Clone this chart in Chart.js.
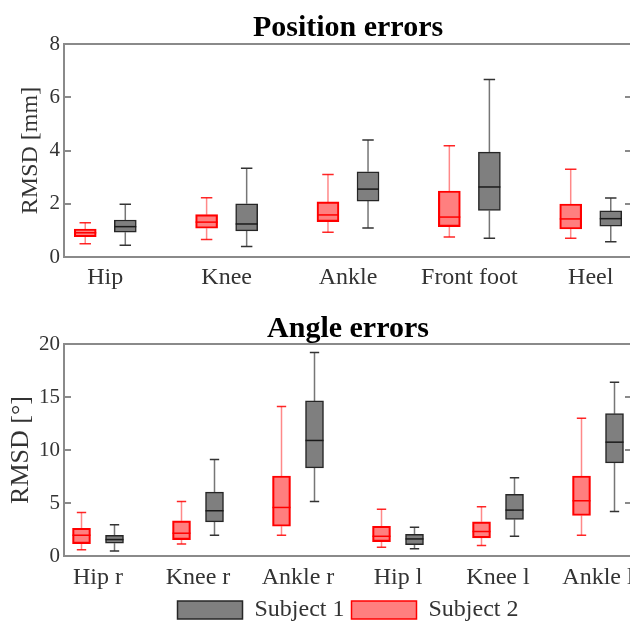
<!DOCTYPE html>
<html><head><meta charset="utf-8">
<script src="https://cdn.jsdelivr.net/npm/chart.js@4"></script>
<style>
html,body{margin:0;padding:0;background:#fff;overflow:hidden;}
#c1{position:absolute;left:0;top:0;}
#c2{position:absolute;left:0;top:300px;}
</style></head><body>
<canvas id="c1" width="632" height="300"></canvas>
<canvas id="c2" width="632" height="332"></canvas>
<script>
// Each entry: [min, q1, median, q3, max]
const posCategories = ['Hip', 'Knee', 'Ankle', 'Front foot', 'Heel'];
const posSubject1 = [[0.44,0.93,1.14,1.39,1.98],[0.39,0.98,1.24,2.00,3.33],[1.09,2.10,2.55,3.20,4.39],[0.70,1.75,2.63,3.94,6.67],[0.57,1.16,1.44,1.73,2.22]];
const posSubject2 = [[0.50,0.76,0.91,1.05,1.29],[0.66,1.08,1.31,1.59,2.23],[0.93,1.33,1.58,2.07,3.10],[0.75,1.14,1.50,2.48,4.18],[0.70,1.05,1.43,1.99,3.30]];
const posTicks = [0, 2, 4, 6, 8];

const angCategories = ['Hip r', 'Knee r', 'Ankle r', 'Hip l', 'Knee l', 'Ankle l'];
const angSubject1 = [[0.47,1.20,1.55,1.96,2.94],[1.96,3.22,4.27,6.03,9.10],[5.15,8.31,10.90,14.63,19.20],[0.69,1.07,1.61,2.05,2.72],[1.86,3.44,4.33,5.81,7.39],[4.20,8.79,10.74,13.43,16.40]];
const angSubject2 = [[0.60,1.17,1.96,2.62,4.10],[1.14,1.55,2.15,3.32,5.15],[1.96,2.81,4.58,7.55,14.10],[0.82,1.36,1.86,2.81,4.42],[0.98,1.71,2.31,3.22,4.64],[1.96,3.82,5.21,7.55,13.00]];
const angTicks = [0, 5, 10, 15, 20];

const seriesNames = ['Subject 1', 'Subject 2'];

const FONT = "'Liberation Serif', 'Times New Roman', serif";
const TEXT = '#333333';
const AXIS = '#8a8a8a';
const STYLES = [
  {fill:'#7f7f7f', border:'#262626', whisker:'#767676', cap:'#333333', median:'#1a1a1a', offset: 0.165},
  {fill:'rgba(255,0,0,0.5)', border:'#ff0000', whisker:'rgba(255,40,40,0.55)', cap:'rgba(255,0,0,0.85)', median:'#ff0000', offset: -0.165}
];

function makeDataset(idx, stats, thickness){
  const st = STYLES[idx];
  return {
    label: seriesNames[idx],
    data: stats.map((s, i) => ({x: i + 1 + st.offset, y: [s[1], s[3]], stats: s})),
    backgroundColor: st.fill,
    borderColor: st.border,
    borderWidth: 1.5,
    borderSkipped: false,
    barThickness: thickness,
    grouped: false,
    boxStyle: st
  };
}

const boxPlugin = {
  id: 'boxWhiskers',
  beforeDatasetsDraw(chart){
    const ctx = chart.ctx, ys = chart.scales.y;
    chart.data.datasets.forEach((ds, di) => {
      const meta = chart.getDatasetMeta(di);
      const st = ds.boxStyle;
      meta.data.forEach((el, i) => {
        const s = ds.data[i].stats;
        const x = el.x, hw = el.width * 0.26;
        const yMin = ys.getPixelForValue(s[0]), yQ1 = ys.getPixelForValue(s[1]);
        const yQ3 = ys.getPixelForValue(s[3]), yMax = ys.getPixelForValue(s[4]);
        ctx.save();
        ctx.lineWidth = 1.5;
        ctx.strokeStyle = st.whisker;
        ctx.beginPath();
        ctx.moveTo(x, yQ3); ctx.lineTo(x, yMax);
        ctx.moveTo(x, yQ1); ctx.lineTo(x, yMin);
        ctx.stroke();
        ctx.strokeStyle = st.cap;
        ctx.beginPath();
        ctx.moveTo(x - hw, yMax); ctx.lineTo(x + hw, yMax);
        ctx.moveTo(x - hw, yMin); ctx.lineTo(x + hw, yMin);
        ctx.stroke();
        ctx.restore();
      });
    });
  },
  afterDatasetsDraw(chart){
    const ctx = chart.ctx, ys = chart.scales.y;
    chart.data.datasets.forEach((ds, di) => {
      const meta = chart.getDatasetMeta(di);
      const st = ds.boxStyle;
      meta.data.forEach((el, i) => {
        const s = ds.data[i].stats;
        const x = el.x, hw = el.width / 2;
        const yMed = ys.getPixelForValue(s[2]);
        ctx.save();
        ctx.lineWidth = 1.5;
        ctx.strokeStyle = st.median;
        ctx.beginPath();
        ctx.moveTo(x - hw, yMed); ctx.lineTo(x + hw, yMed);
        ctx.stroke();
        ctx.restore();
      });
    });
  },
  afterDraw(chart){
    const ctx = chart.ctx, a = chart.chartArea, ys = chart.scales.y;
    ctx.save();
    ctx.strokeStyle = AXIS;
    ctx.lineWidth = 2;
    ctx.strokeRect(a.left, a.top, a.right - a.left, a.bottom - a.top);
    ctx.beginPath();
    ys.ticks.forEach(t => {
      const y = Math.round(ys.getPixelForValue(t.value));
      ctx.moveTo(a.left, y); ctx.lineTo(a.left + 7, y);
      ctx.moveTo(a.right, y); ctx.lineTo(a.right - 7, y);
    });
    ctx.stroke();
    ctx.restore();
  }
};

function makeChart(id, cfg){
  const n = cfg.categories.length;
  return new Chart(document.getElementById(id), {
    type: 'bar',
    data: {
      datasets: [makeDataset(0, cfg.s1, cfg.thickness), makeDataset(1, cfg.s2, cfg.thickness)]
    },
    plugins: [boxPlugin],
    options: {
      responsive: false,
      animation: false,
      events: [],
      layout: {padding: {left: 0, right: 0, top: 0, bottom: 0}},
      plugins: {
        tooltip: {enabled: false},
        title: {
          display: true, text: cfg.title, fullSize: false,
          font: {family: FONT, size: 30, weight: 'bold', lineHeight: 1.0}, color: '#000',
          padding: {top: cfg.titleTop, bottom: cfg.titleBottom}
        },
        legend: cfg.legend ? {
          display: true, position: 'bottom', fullSize: false,
          labels: {font: {family: FONT, size: 24}, color: TEXT, boxWidth: 65, boxHeight: 18, padding: 7}
        } : {display: false}
      },
      scales: {
        x: {
          type: 'linear', min: 0.66, max: n + 0.34, offset: false,
          grid: {display: false, drawTicks: false, tickLength: 0}, border: {display: false},
          afterBuildTicks: s => { s.ticks = cfg.categories.map((c, i) => ({value: i + 1})); },
          afterFit: s => { s.height = cfg.xHeight; s.paddingLeft = 0; s.paddingRight = 0; },
          ticks: {
            autoSkip: false, maxRotation: 0, padding: cfg.xPad,
            font: {family: FONT, size: 24}, color: TEXT,
            callback: v => cfg.categories[Math.round(v) - 1]
          }
        },
        y: {
          type: 'linear', min: cfg.ticks[0], max: cfg.ticks[cfg.ticks.length - 1],
          grid: {display: false, drawTicks: false, tickLength: 0}, border: {display: false},
          afterBuildTicks: s => { s.ticks = cfg.ticks.map(v => ({value: v})); },
          afterFit: s => { s.width = 64; },
          ticks: {padding: 4, font: {family: FONT, size: 21}, color: TEXT},
          title: {display: true, text: cfg.yTitle, font: {family: FONT, size: cfg.yTitleSize}, color: TEXT,
                  padding: {top: cfg.yTitlePad, bottom: 0}}
        }
      }
    }
  });
}

makeChart('c1', {
  categories: posCategories, s1: posSubject1, s2: posSubject2, ticks: posTicks,
  title: 'Position errors', yTitle: 'RMSD [mm]', yTitleSize: 24, thickness: 22,
  titleTop: 13, titleBottom: 1, xHeight: 43, xPad: 6, yTitlePad: 16, legend: false
});
makeChart('c2', {
  categories: angCategories, s1: angSubject1, s2: angSubject2, ticks: angTicks,
  title: 'Angle errors', yTitle: 'RMSD [°]', yTitleSize: 26, thickness: 18,
  titleTop: 14, titleBottom: 0, xHeight: 35, xPad: 7, yTitlePad: 6, legend: true
});
</script>
</body></html>
